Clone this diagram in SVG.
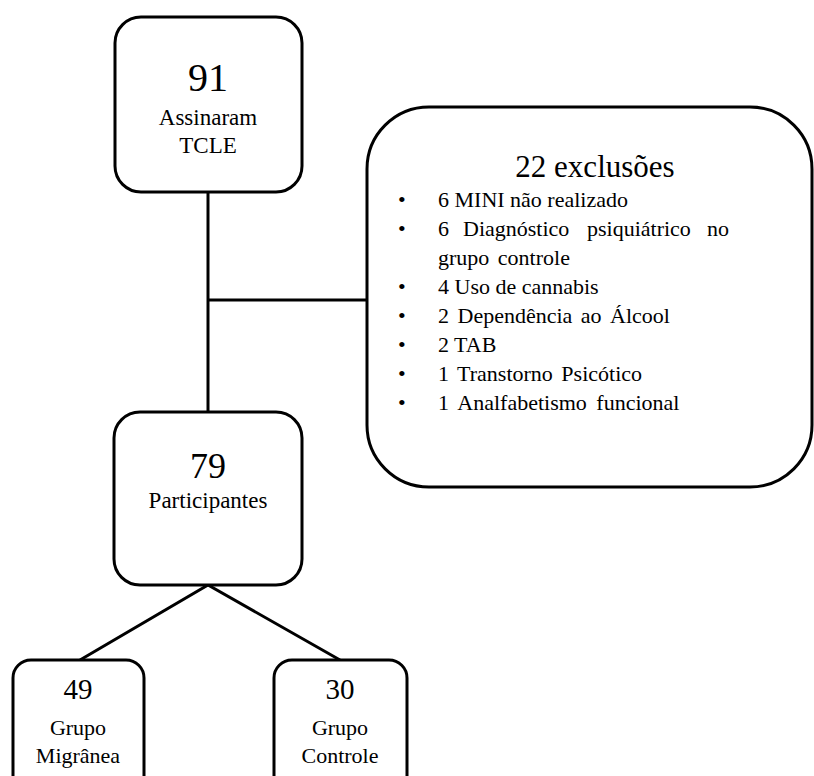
<svg xmlns="http://www.w3.org/2000/svg" width="814" height="776" viewBox="0 0 814 776">
<style>
.box{fill:#fff;stroke:#000;stroke-width:3}
.ln{stroke:#000;stroke-width:3;fill:none}
</style>
<rect width="814" height="776" fill="#fff"/>
<g id="connectors">
<line class="ln" x1="208" y1="192" x2="208" y2="412"/>
<line class="ln" x1="208" y1="300" x2="368" y2="300"/>
<polyline class="ln" points="80,660 208,585 340,660"/>
</g>
<g id="n91">
<rect class="box" x="115" y="17" width="187" height="175" rx="26"/>
<text text-anchor="middle" x="208" y="91" font-family="Liberation Serif" font-size="40">91</text>
<text text-anchor="middle" x="208" y="125" font-family="Liberation Serif" font-size="23">Assinaram</text>
<text text-anchor="middle" x="208" y="153" font-family="Liberation Serif" font-size="23">TCLE</text>
</g>
<g id="exclusoes">
<rect class="box" x="367" y="107" width="445" height="380" rx="62"/>
<text text-anchor="middle" x="595" y="177" font-family="Liberation Serif" font-size="31">22 exclus&#245;es</text>
<text x="398" y="207" font-family="Liberation Serif" font-size="22">&#8226;</text>
<text x="438" y="207" font-family="Liberation Serif" font-size="22">6 MINI n&#227;o realizado</text>
<text x="398" y="236" font-family="Liberation Serif" font-size="22">&#8226;</text>
<text y="236" font-family="Liberation Serif" font-size="22"><tspan x="438">6</tspan><tspan x="463">Diagn&#243;stico</tspan><tspan x="587">psiqui&#225;trico</tspan><tspan x="707">no</tspan></text>
<text x="438" y="265" font-family="Liberation Serif" font-size="22" word-spacing="3">grupo controle</text>
<text x="398" y="294" font-family="Liberation Serif" font-size="22">&#8226;</text>
<text x="438" y="294" font-family="Liberation Serif" font-size="22">4 Uso de cannabis</text>
<text x="398" y="323" font-family="Liberation Serif" font-size="22">&#8226;</text>
<text x="438" y="323" font-family="Liberation Serif" font-size="22" word-spacing="3">2 Depend&#234;ncia ao &#193;lcool</text>
<text x="398" y="352" font-family="Liberation Serif" font-size="22">&#8226;</text>
<text x="438" y="352" font-family="Liberation Serif" font-size="22">2 TAB</text>
<text x="398" y="381" font-family="Liberation Serif" font-size="22">&#8226;</text>
<text x="438" y="381" font-family="Liberation Serif" font-size="22" word-spacing="3">1 Transtorno Psic&#243;tico</text>
<text x="398" y="410" font-family="Liberation Serif" font-size="22">&#8226;</text>
<text x="438" y="410" font-family="Liberation Serif" font-size="22" word-spacing="4">1 Analfabetismo funcional</text>
</g>
<g id="n79">
<rect class="box" x="114" y="412" width="188" height="173" rx="26"/>
<text text-anchor="middle" x="208" y="478" font-family="Liberation Serif" font-size="36">79</text>
<text text-anchor="middle" x="208" y="508" font-family="Liberation Serif" font-size="23">Participantes</text>
</g>
<g id="n49">
<rect class="box" x="13" y="660" width="131" height="140" rx="18"/>
<text text-anchor="middle" x="78" y="699" font-family="Liberation Serif" font-size="29">49</text>
<text text-anchor="middle" x="78" y="735" font-family="Liberation Serif" font-size="22">Grupo</text>
<text text-anchor="middle" x="78" y="763" font-family="Liberation Serif" font-size="22">Migr&#226;nea</text>
</g>
<g id="n30">
<rect class="box" x="274" y="660" width="133" height="140" rx="18"/>
<text text-anchor="middle" x="340" y="699" font-family="Liberation Serif" font-size="29">30</text>
<text text-anchor="middle" x="340" y="735" font-family="Liberation Serif" font-size="22">Grupo</text>
<text text-anchor="middle" x="340" y="763" font-family="Liberation Serif" font-size="22">Controle</text>
</g>
</svg>
